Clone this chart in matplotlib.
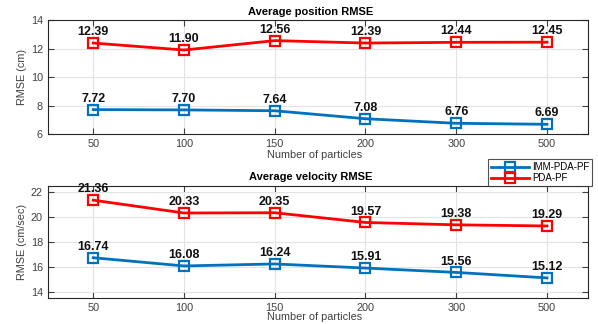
import matplotlib
matplotlib.use("Agg")
import matplotlib.pyplot as plt

plt.rcParams['font.family'] = ['Liberation Sans', 'DejaVu Sans']

particles = ["50", "100", "150", "200", "300", "500"]
pos_imm = [7.72, 7.70, 7.64, 7.08, 6.76, 6.69]
pos_pda = [12.39, 11.90, 12.56, 12.39, 12.44, 12.45]
vel_imm = [16.74, 16.08, 16.24, 15.91, 15.56, 15.12]
vel_pda = [21.36, 20.33, 20.35, 19.57, 19.38, 19.29]

blue = '#0072BD'
red = '#FF0000'
tick_col = '#404040'

fig = plt.figure(figsize=(5.98, 3.24), dpi=100)
ax1 = fig.add_axes([0.080, 0.586, 0.903, 0.352])
ax2 = fig.add_axes([0.080, 0.080, 0.903, 0.346])

x = list(range(1, len(particles) + 1))

def draw(ax, imm, pda, ylim, yticks, ylabel, title, xlabel_y):
    ax.plot(x, imm, color=blue, lw=2, marker='s', ms=6.5, mfc='none', mew=1.6, label='IMM-PDA-PF', zorder=3)
    ax.plot(x, pda, color=red, lw=2, marker='s', ms=6.5, mfc='none', mew=1.6, label='PDA-PF', zorder=3)
    for series in (imm, pda):
        for xi, v in zip(x, series):
            ax.annotate(f"{v:.2f}", (xi, v), xytext=(0, 3.5), textcoords='offset points',
                        ha='center', va='bottom', fontsize=9, fontweight='bold', color='#111111')
    ax.set_xlim(0.5, 6.45)
    ax.set_ylim(*ylim)
    ax.set_xticks(x)
    ax.set_xticklabels(particles)
    ax.set_yticks(yticks)
    ax.grid(True, color='#e3e3e3', lw=0.8)
    ax.set_axisbelow(True)
    ax.tick_params(direction='in', top=True, right=True, labelsize=7.8, colors=tick_col,
                   length=4, width=0.8)
    for s in ax.spines.values():
        s.set_color('#262626')
        s.set_linewidth(0.8)
    ax.set_xlabel('Number of particles', fontsize=7.8, color=tick_col, va='top')
    ax.xaxis.set_label_coords(0.4935, xlabel_y)
    ax.set_ylabel(ylabel, fontsize=7.8, color=tick_col, labelpad=3)
    t = ax.set_title(title, fontsize=8, fontweight='bold', pad=4)
    t.set_x(0.486)

draw(ax1, pos_imm, pos_pda, (6, 14), [6, 8, 10, 12, 14], 'RMSE (cm)', 'Average position RMSE', -0.135)
draw(ax2, vel_imm, vel_pda, (13.5, 22.5), [14, 16, 18, 20, 22], 'RMSE (cm/sec)', 'Average velocity RMSE', -0.125)

handles, labels = ax1.get_legend_handles_labels()
leg = fig.legend(handles, labels, loc='upper right', bbox_to_anchor=(0.998, 0.524),
                 fontsize=7, frameon=True, fancybox=False, edgecolor='#262626',
                 borderpad=0.3, labelspacing=0.15, handlelength=3.9, handletextpad=0.3)
leg.get_frame().set_linewidth(0.8)

fig.savefig('out.png', dpi=100)
